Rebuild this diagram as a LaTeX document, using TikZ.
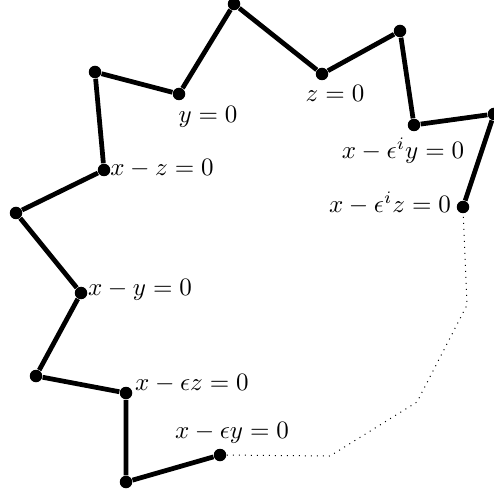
\documentclass[tikz,border=0pt]{standalone}
\usepackage{amsmath,amssymb}
\usepackage{tikz}
\usetikzlibrary{positioning}

\begin{document}
\begin{tikzpicture}[
    x=0.4pt, y=-0.4pt,
    vertex/.style={circle, fill=black, inner sep=0pt, minimum size=5pt},
    edge/.style={line width=1.9pt, line join=round},
    gap/.style={dotted, line width=0.4pt},
    lbl/.style={inner sep=0pt}
]
\useasboundingbox (0,0) rectangle (493,497);

% Vertices
\node[vertex] (a) at (234,4) {};
\node[vertex] (b) at (179,94) {};
\node[vertex] (c) at (95,72) {};
\node[vertex] (d) at (104,170) {};
\node[vertex] (e) at (16,213) {};
\node[vertex] (f) at (81,293) {};
\node[vertex] (g) at (36,376) {};
\node[vertex] (h) at (126,393) {};
\node[vertex] (i) at (126,482) {};
\node[vertex] (j) at (220,455) {};
\node[vertex] (k) at (463,207) {};
\node[vertex] (l) at (494,114) {};
\node[vertex] (m) at (414,125) {};
\node[vertex] (n) at (400,31) {};
\node[vertex] (o) at (322,74) {};

% Corners of the dotted part
\coordinate (p1) at (330,456);
\coordinate (p2) at (417,402);
\coordinate (p3) at (467,305);

% Labels
\node[lbl] (lb) at (208,117) {$y=0$};
\node[lbl] (lo) at (335,93) {$z=0$};
\node[lbl] (lm) at (403,151) {$x-\epsilon^iy=0$};
\node[lbl] (lk) at (390,203) {$x-\epsilon^iz=0$};
\node[lbl] (ld) at (162,168) {$x-z=0$};
\node[lbl] (lf) at (140,290) {$x-y=0$};
\node[lbl] (lh) at (192,383) {$x-\epsilon z=0$};
\node[lbl] (lj) at (232,433) {$x-\epsilon y=0$};

% Solid chain
\draw[edge] (k) -- (l) -- (m) -- (n) -- (o) -- (a) -- (b) -- (c) -- (d)
    -- (e) -- (f) -- (g) -- (h) -- (i) -- (j);

% Dotted chain
\draw[gap] (j) -- (p1) -- (p2) -- (p3) -- (k);

\end{tikzpicture}
\end{document}
